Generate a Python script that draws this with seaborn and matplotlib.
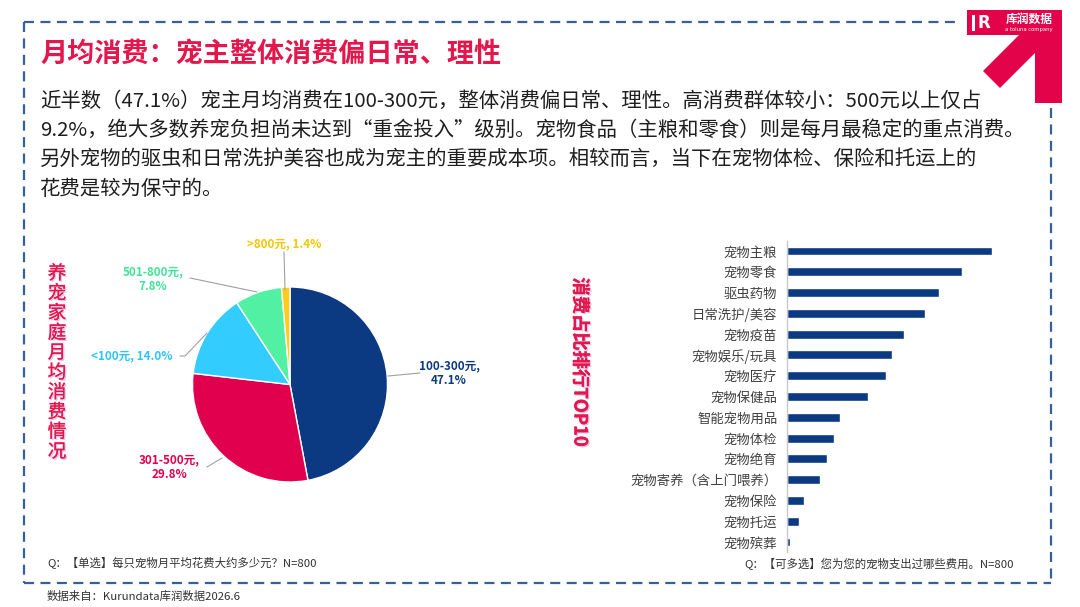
import matplotlib
matplotlib.use("Agg")
import matplotlib.pyplot as plt
import matplotlib.patheffects as pe
from matplotlib.patches import Polygon, Rectangle
from matplotlib.lines import Line2D
import seaborn as sns

# ---- data ----
pie_labels = ["100-300元", "301-500元", "<100元", "501-800元", ">800元"]
pie_shares = [47.1, 29.8, 14.0, 7.8, 1.4]

cost_items = ["宠物主粮", "宠物零食", "驱虫药物", "日常洗护/美容", "宠物疫苗",
              "宠物娱乐/玩具", "宠物医疗", "宠物保健品", "智能宠物用品", "宠物体检",
              "宠物绝育", "宠物寄养（含上门喂养）", "宠物保险", "宠物托运", "宠物殡葬"]
cost_share = [80.0, 68.3, 59.3, 53.9, 45.7, 41.0, 38.6, 31.6, 20.7, 18.3,
              15.6, 12.9, 6.6, 4.7, 1.0]

title = "月均消费：宠主整体消费偏日常、理性"
body_lines = [
    "近半数（47.1%）宠主月均消费在100-300元，整体消费偏日常、理性。高消费群体较小：500元以上仅占",
    "9.2%，绝大多数养宠负担尚未达到“重金投入”级别。宠物食品（主粮和零食）则是每月最稳定的重点消费。",
    "另外宠物的驱虫和日常洗护美容也成为宠主的重要成本项。相较而言，当下在宠物体检、保险和托运上的",
    "花费是较为保守的。",
]
left_side_title = "养宠家庭月均消费情况"
right_side_title = "消费占比排行TOP10"
q_left = "Q：【单选】每只宠物月平均花费大约多少元？N=800"
q_right = "Q：【可多选】您为您的宠物支出过哪些费用。N=800"
source = "数据来自：Kurundata库润数据2026.6"

NAVY = "#0b3a82"
CRIMSON = "#e0004d"
SKY = "#33ccff"
MINT = "#52f0a2"
YELLOW = "#ffcc1a"
pie_colors = [NAVY, CRIMSON, SKY, MINT, YELLOW]
label_colors = [NAVY, CRIMSON, "#2ec4f6", "#3fe596", "#f7c600"]
RED = "#e3174c"
BORDER = "#35609c"

sns.set_theme(style="white")
plt.rcParams["font.family"] = ["Noto Sans CJK SC", "DejaVu Sans"]

W, H = 1080, 607
fig = plt.figure(figsize=(W / 100, H / 100), dpi=100)
fig.patch.set_facecolor("white")


def fx(x):
    return x / W


def fy(y):
    return 1 - y / H


def box(x0, y0, x1, y1):
    return [fx(x0), fy(y1), (x1 - x0) / W, (y1 - y0) / H]


# ---- dashed frame ----
dash = dict(color=BORDER, lw=1.6, linestyle=(0, (4.5, 2.9)), transform=fig.transFigure)
for xs, ys in [((24, 960), (22, 22)), ((24, 24), (22, 583)),
               ((24, 1051), (583, 583)), ((1051, 1051), (108, 583))]:
    fig.add_artist(Line2D([fx(v) for v in xs], [fy(v) for v in ys], **dash))

# ---- logo ----
arrow_pts = [(967, 10), (1062, 10), (1062, 103), (1035, 103), (1035, 53),
             (1000, 88), (983, 71), (1019, 35), (967, 35)]
fig.add_artist(Polygon([(fx(x), fy(y)) for x, y in arrow_pts], closed=True,
                       facecolor="#e2034a", edgecolor="none", transform=fig.transFigure))
fig.text(fx(984), fy(23), "R", color="white", fontsize=12, fontweight="bold",
         ha="center", va="center", family=["DejaVu Sans"])
fig.add_artist(Rectangle((fx(972), fy(31)), 2.5 / W, 16 / H, facecolor="white",
                         edgecolor="none", transform=fig.transFigure))
fig.text(fx(1029), fy(19), "库润数据", color="white", fontsize=8.5, fontweight="bold",
         ha="center", va="center")
fig.text(fx(1029), fy(30), "a toluna company", color="white", fontsize=3.8,
         ha="center", va="center", family=["DejaVu Sans"])

# ---- title and body ----
fig.text(fx(40), fy(54), title, color=RED, fontsize=19.5, fontweight="bold",
         ha="left", va="center")
for i, line in enumerate(body_lines):
    fig.text(fx(40), fy(101 + i * 29.4), line, color="#1e1e1e", fontsize=14.7,
             ha="left", va="center")

# ---- side titles ----
shadow = [pe.SimplePatchShadow(offset=(1.0, -1.0), shadow_rgbFace="#c9a6e6", alpha=0.7),
          pe.withStroke(linewidth=0.8, foreground="#f3c6dc"), pe.Normal()]
for i, ch in enumerate(left_side_title):
    fig.text(fx(57), fy(274 + i * 19.8), ch, color=RED, fontsize=13.4,
             fontweight="medium", ha="center", va="center", path_effects=shadow)
fig.text(fx(580), fy(362), right_side_title, color=RED, fontsize=13.2,
         fontweight="bold", rotation=-90, ha="center", va="center",
         path_effects=shadow)

# ---- pie ----
ax_pie = fig.add_axes(box(100, 225, 520, 500))
ax_pie.pie(pie_shares, colors=pie_colors, startangle=90, counterclock=False,
           center=(290, -384.5), radius=97.5,
           wedgeprops=dict(edgecolor="white", linewidth=1.0))
ax_pie.set_xlim(100, 520)
ax_pie.set_ylim(-500, -225)
ax_pie.axis("off")

# label position (px), leader line points (px)
label_pos = [(449, 373), (169, 467), (132, 356), (153, 279), (284, 244)]
leaders = [
    [(388, 376), (420, 373)],
    [(222, 458), (207, 467)],
    [(207, 333), (185, 356), (180, 356)],
    [(257, 292), (190, 278)],
    [(285, 290), (284, 252)],
]
for i, (lab, val) in enumerate(zip(pie_labels, pie_shares)):
    if i in (2, 4):
        txt = f"{lab}, {val:.1f}%"
    else:
        txt = f"{lab},\n{val:.1f}%"
    x, y = label_pos[i]
    ax_pie.text(x, -y, txt, color=label_colors[i], fontsize=8.4, fontweight="bold",
                ha="center", va="center", linespacing=1.2)
    pts = leaders[i]
    ax_pie.plot([p[0] for p in pts], [-p[1] for p in pts], color="#a0a0a0", lw=0.8)

# ---- bar ranking ----
ax_bar = fig.add_axes(box(787, 240.6, 1010, 552.4))
sns.barplot(x=cost_share, y=cost_items, orient="h", color=NAVY, width=0.43,
            saturation=1, ax=ax_bar)
ax_bar.set_xlim(0, 87)
ax_bar.set_xticks([])
ax_bar.set_xlabel("")
ax_bar.set_ylabel("")
for s in ["top", "right", "bottom"]:
    ax_bar.spines[s].set_visible(False)
ax_bar.spines["left"].set_color("#c8c8c8")
ax_bar.spines["left"].set_linewidth(1.0)
ax_bar.tick_params(axis="y", length=0, pad=7, labelsize=9.6, labelcolor="#404040")
ax_bar.set_facecolor("none")

# ---- footnotes ----
fig.text(fx(47), fy(563), q_left, color="#333333", fontsize=8.2, ha="left", va="center")
fig.text(fx(744), fy(563), q_right, color="#333333", fontsize=8.2, ha="left", va="center")
fig.text(fx(47), fy(596), source, color="#333333", fontsize=8.2, ha="left", va="center")

fig.savefig("out.png", dpi=100, facecolor="white")
